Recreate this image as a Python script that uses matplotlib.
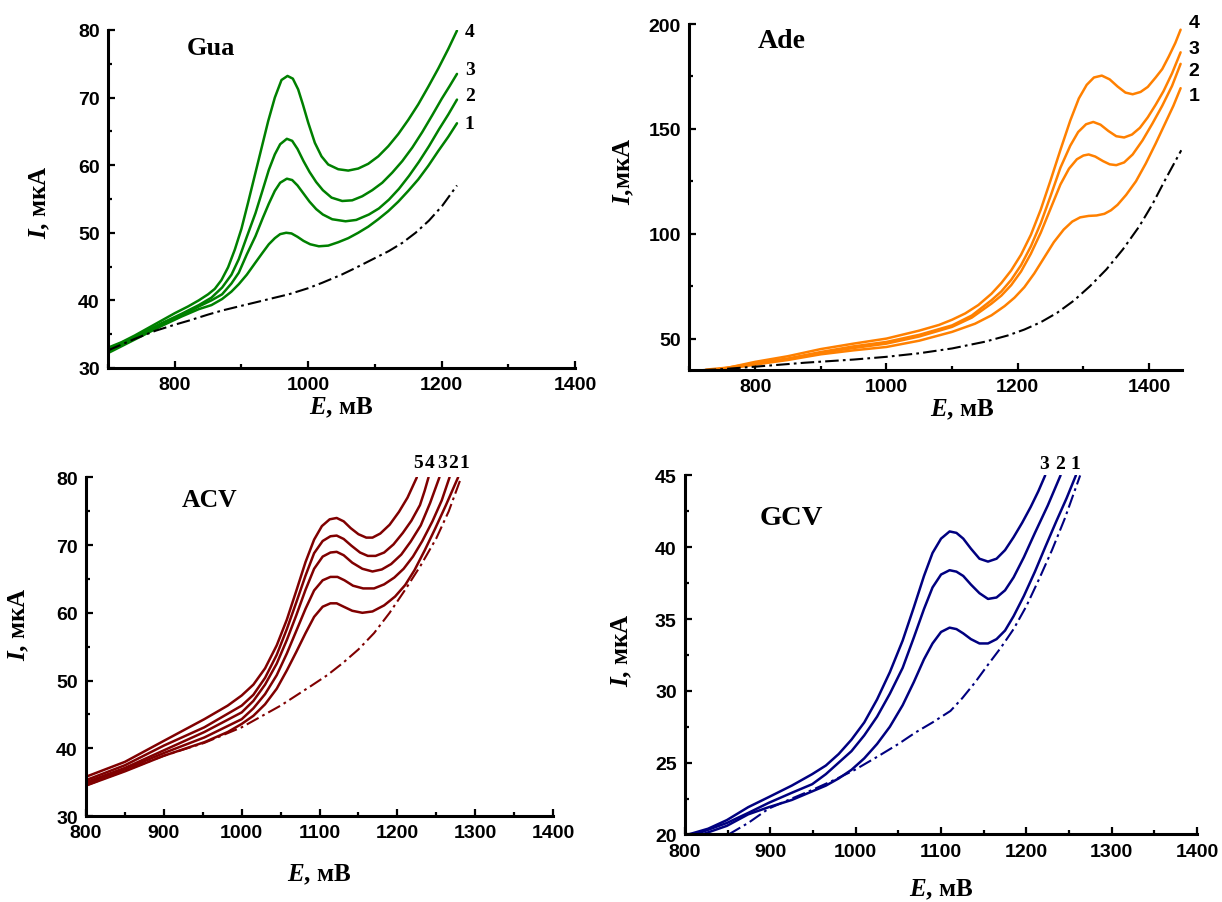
import matplotlib
matplotlib.use("Agg")
import matplotlib.pyplot as plt
from matplotlib.ticker import MultipleLocator

# --- Gua: (E mV, I uA) for curves 1-4 and the background (dash-dot) ---
gua_1 = [(700, 32.2), (740, 34.2), (780, 36.2), (810, 37.6), (836, 38.7), (855, 39.3),
         (871, 40.2), (885, 41.3), (896, 42.4), (908, 43.8), (921, 45.6), (932, 47.1),
         (941, 48.3), (950, 49.2), (958, 49.8), (967, 50.0), (975, 49.9), (984, 49.4),
         (993, 48.8), (1003, 48.3), (1016, 48.0), (1030, 48.1), (1045, 48.6), (1060, 49.2),
         (1075, 50.0), (1090, 50.9), (1105, 52.0), (1120, 53.2), (1135, 54.6), (1150, 56.2),
         (1165, 57.9), (1180, 59.9), (1195, 62.1), (1210, 64.2), (1223, 66.2)]
gua_2 = [(700, 32.5), (740, 34.4), (780, 36.4), (810, 37.8), (836, 39.1), (855, 40.0),
         (871, 40.9), (885, 42.5), (896, 44.1), (908, 46.8), (921, 49.5), (932, 52.2),
         (941, 54.3), (950, 56.2), (958, 57.4), (968, 58.0), (976, 57.8), (984, 57.0),
         (993, 55.8), (1002, 54.6), (1012, 53.5), (1022, 52.7), (1036, 52.0), (1056, 51.7),
         (1072, 51.9), (1091, 52.7), (1106, 53.6), (1121, 54.9), (1136, 56.5), (1151, 58.4),
         (1166, 60.5), (1181, 62.8), (1196, 65.3), (1210, 67.5), (1223, 69.7)]
gua_3 = [(700, 32.8), (740, 34.6), (780, 36.6), (810, 38.0), (836, 39.3), (855, 40.4),
         (871, 41.9), (885, 43.8), (896, 46.1), (908, 49.4), (921, 52.9), (932, 56.4),
         (941, 59.3), (950, 61.6), (958, 63.1), (968, 63.9), (976, 63.6), (984, 62.4),
         (993, 60.6), (1002, 59.0), (1012, 57.5), (1022, 56.3), (1035, 55.2), (1051, 54.7),
         (1066, 54.8), (1081, 55.4), (1096, 56.3), (1111, 57.4), (1126, 58.9), (1141, 60.6),
         (1156, 62.6), (1171, 64.9), (1186, 67.4), (1200, 69.8), (1212, 71.7), (1223, 73.5)]
gua_4 = [(700, 33.0), (720, 33.8), (740, 34.8), (760, 35.9), (780, 37.0), (800, 38.1),
         (820, 39.1), (836, 40.0), (850, 40.9), (860, 41.7), (870, 43.0), (880, 44.9),
         (890, 47.5), (900, 50.6), (910, 54.5), (920, 58.5), (930, 62.5), (940, 66.5),
         (950, 70.0), (960, 72.6), (969, 73.2), (977, 72.8), (985, 71.2), (992, 69.0),
         (1000, 66.3), (1010, 63.3), (1020, 61.3), (1030, 60.1), (1045, 59.4), (1060, 59.2),
         (1075, 59.5), (1090, 60.2), (1105, 61.3), (1120, 62.8), (1135, 64.6), (1150, 66.7),
         (1165, 69.0), (1180, 71.6), (1195, 74.3), (1210, 77.2), (1223, 79.9)]
gua_bg = [(700, 32.6), (740, 34.3), (771, 35.5), (800, 36.4), (821, 37.0), (850, 37.9),
          (871, 38.5), (900, 39.2), (921, 39.7), (950, 40.4), (971, 40.9), (1000, 41.8),
          (1021, 42.6), (1050, 43.8), (1071, 44.8), (1101, 46.3), (1121, 47.3), (1141, 48.5),
          (1161, 50.0), (1181, 51.8), (1201, 54.0), (1223, 57.0)]

# --- Ade ---
ade_1 = [(750, 35.2), (800, 37.6), (850, 39.8), (900, 42.5), (950, 44.4), (1000, 46.0),
         (1050, 49.0), (1100, 53.2), (1135, 57.1), (1160, 61.1), (1180, 65.5), (1195, 69.5),
         (1210, 74.5), (1225, 81.0), (1240, 88.5), (1255, 96.0), (1270, 102.0), (1283, 105.8),
         (1295, 107.8), (1308, 108.5), (1320, 108.7), (1332, 109.5), (1342, 111.2),
         (1352, 113.8), (1365, 118.5), (1380, 125.0), (1395, 133.5), (1410, 143.0),
         (1425, 153.0), (1437, 161.0), (1448, 169.4)]
ade_2 = [(745, 35.2), (800, 38.0), (850, 40.2), (900, 43.2), (950, 45.5), (1000, 47.6),
         (1050, 51.0), (1100, 55.6), (1130, 60.0), (1160, 66.7), (1175, 70.5), (1190, 75.5),
         (1205, 82.0), (1220, 90.5), (1235, 100.5), (1250, 112.0), (1265, 123.5),
         (1278, 131.0), (1290, 135.5), (1300, 137.3), (1308, 137.8), (1318, 136.8),
         (1330, 134.6), (1340, 133.1), (1350, 132.7), (1362, 134.0), (1375, 137.8),
         (1390, 144.5), (1405, 152.5), (1420, 161.0), (1435, 170.5), (1448, 181.0)]
ade_3 = [(740, 35.2), (800, 38.3), (850, 40.5), (900, 43.6), (950, 46.3), (1000, 48.4),
         (1050, 51.8), (1100, 56.3), (1130, 61.0), (1160, 68.3), (1175, 72.5), (1190, 78.0),
         (1205, 85.0), (1220, 94.0), (1235, 105.0), (1250, 118.0), (1265, 131.5),
         (1280, 142.0), (1292, 148.5), (1304, 152.2), (1315, 153.3), (1326, 152.0),
         (1338, 149.0), (1350, 146.5), (1362, 145.9), (1374, 147.3), (1386, 150.5),
         (1398, 155.5), (1410, 161.5), (1422, 168.0), (1435, 176.5), (1448, 186.5)]
ade_4 = [(725, 35.2), (760, 36.2), (800, 38.9), (850, 41.6), (900, 45.0), (950, 47.6),
         (1000, 50.0), (1050, 53.8), (1080, 56.5), (1100, 59.0), (1120, 62.0), (1140, 66.0),
         (1160, 71.4), (1175, 76.5), (1190, 82.5), (1205, 90.0), (1220, 99.5), (1235, 111.5),
         (1250, 125.5), (1265, 140.0), (1280, 154.0), (1293, 164.5), (1305, 171.0),
         (1316, 174.5), (1328, 175.4), (1340, 173.6), (1352, 170.2), (1364, 167.3),
         (1375, 166.5), (1387, 167.6), (1398, 170.0), (1410, 174.5), (1420, 178.5),
         (1430, 184.5), (1440, 191.0), (1448, 197.3)]
ade_bg = [(720, 35.0), (745, 35.3), (800, 36.6), (876, 38.5), (950, 40.0), (1000, 41.3),
          (1050, 43.0), (1100, 45.3), (1150, 48.5), (1185, 51.5), (1210, 54.3), (1235, 57.8),
          (1260, 62.3), (1285, 68.0), (1310, 75.0), (1335, 83.0), (1360, 92.5), (1385, 103.5),
          (1405, 114.0), (1425, 126.0), (1449, 139.8)]

# --- ACV ---
acv_1 = [(800, 34.5), (850, 36.6), (900, 38.9), (952, 40.9), (982, 42.4), (1000, 43.6),
         (1015, 44.8), (1030, 46.5), (1045, 48.8), (1058, 51.5), (1070, 54.2), (1082, 57.0),
         (1093, 59.4), (1104, 60.9), (1114, 61.4), (1122, 61.4), (1131, 60.9), (1142, 60.3),
         (1155, 60.0), (1168, 60.2), (1183, 61.1), (1197, 62.4), (1210, 64.1), (1222, 66.3),
         (1235, 69.2), (1248, 72.3), (1262, 75.8), (1278, 80.0)]
acv_2 = [(800, 34.8), (850, 36.9), (900, 39.3), (952, 41.6), (1000, 44.3), (1015, 45.9),
         (1030, 48.0), (1045, 50.8), (1058, 54.0), (1070, 57.3), (1082, 60.6), (1093, 63.3),
         (1104, 64.8), (1114, 65.3), (1123, 65.3), (1132, 64.8), (1143, 64.0), (1156, 63.6),
         (1170, 63.6), (1183, 64.2), (1196, 65.2), (1208, 66.5), (1220, 68.3), (1232, 70.6),
         (1245, 73.5), (1257, 76.6), (1267, 80.0)]
acv_3 = [(800, 35.0), (850, 37.1), (900, 39.7), (952, 42.4), (1000, 45.3), (1015, 47.0),
         (1030, 49.4), (1045, 52.5), (1058, 56.0), (1070, 59.6), (1082, 63.4), (1093, 66.5),
         (1104, 68.3), (1114, 68.9), (1122, 69.0), (1131, 68.5), (1142, 67.4), (1155, 66.5),
         (1168, 66.1), (1180, 66.4), (1192, 67.2), (1205, 68.6), (1217, 70.5), (1230, 72.9),
         (1242, 76.2), (1254, 80.0)]
acv_4 = [(800, 35.3), (850, 37.5), (900, 40.4), (952, 43.1), (1000, 46.3), (1015, 47.9),
         (1030, 50.4), (1045, 53.8), (1058, 57.6), (1070, 61.5), (1082, 65.5), (1093, 68.8),
         (1104, 70.6), (1114, 71.3), (1122, 71.4), (1131, 70.9), (1141, 69.9), (1152, 68.9),
         (1162, 68.4), (1172, 68.4), (1183, 68.9), (1195, 70.1), (1207, 71.8), (1218, 73.6),
         (1229, 75.9), (1235, 78.0), (1240, 80.0)]
acv_5 = [(800, 35.8), (850, 38.0), (900, 41.1), (952, 44.3), (982, 46.3), (1000, 47.8),
         (1015, 49.4), (1030, 51.8), (1045, 55.2), (1058, 59.0), (1070, 63.2), (1082, 67.5),
         (1093, 70.8), (1103, 72.8), (1113, 73.8), (1122, 74.0), (1131, 73.5), (1140, 72.5),
         (1150, 71.6), (1160, 71.1), (1168, 71.1), (1178, 71.7), (1190, 73.0), (1202, 74.9),
         (1213, 77.0), (1225, 80.0)]
acv_bg = [(800, 34.5), (850, 36.7), (900, 38.9), (952, 40.8), (1000, 43.1), (1050, 46.3),
          (1089, 49.2), (1110, 50.8), (1130, 52.6), (1150, 54.6), (1170, 57.0), (1190, 60.0),
          (1210, 63.4), (1230, 67.0), (1250, 71.0), (1266, 75.0), (1282, 80.0)]

# --- GCV ---
gcv_1 = [(820, 20.0), (849, 20.6), (874, 21.4), (898, 21.9), (925, 22.4), (949, 23.0),
         (965, 23.4), (980, 23.9), (995, 24.5), (1010, 25.3), (1025, 26.3), (1040, 27.5),
         (1055, 29.0), (1068, 30.6), (1080, 32.2), (1090, 33.3), (1100, 34.1), (1110, 34.4),
         (1118, 34.3), (1126, 34.0), (1135, 33.6), (1145, 33.3), (1155, 33.3), (1165, 33.6),
         (1175, 34.2), (1185, 35.2), (1197, 36.6), (1210, 38.3), (1222, 40.0), (1235, 41.8),
         (1247, 43.4), (1258, 45.0)]
gcv_2 = [(812, 20.0), (835, 20.5), (849, 20.8), (874, 21.5), (898, 22.2), (925, 22.9),
         (949, 23.5), (965, 24.2), (980, 25.0), (995, 25.8), (1010, 26.9), (1025, 28.2),
         (1040, 29.8), (1055, 31.6), (1068, 33.7), (1080, 35.7), (1090, 37.2), (1100, 38.1),
         (1110, 38.4), (1118, 38.3), (1126, 38.0), (1135, 37.4), (1145, 36.8), (1155, 36.4),
         (1165, 36.5), (1175, 37.0), (1185, 37.9), (1197, 39.3), (1210, 41.0), (1225, 42.9),
         (1240, 45.0)]
gcv_3 = [(804, 20.0), (827, 20.4), (849, 21.0), (874, 21.9), (898, 22.6), (925, 23.4),
         (949, 24.2), (965, 24.8), (980, 25.6), (995, 26.6), (1010, 27.8), (1025, 29.4),
         (1040, 31.3), (1055, 33.5), (1068, 35.8), (1080, 38.0), (1090, 39.6), (1100, 40.6),
         (1110, 41.1), (1118, 41.0), (1126, 40.6), (1135, 39.9), (1145, 39.2), (1155, 39.0),
         (1165, 39.2), (1175, 39.8), (1185, 40.7), (1195, 41.7), (1205, 42.8), (1214, 43.9),
         (1222, 45.0)]
gcv_bg = [(851, 20.0), (874, 20.8), (898, 21.8), (925, 22.5), (949, 23.1), (975, 23.8),
          (999, 24.5), (1025, 25.4), (1050, 26.3), (1070, 27.1), (1090, 27.8), (1111, 28.6),
          (1125, 29.5), (1140, 30.6), (1156, 31.9), (1170, 33.0), (1185, 34.3), (1200, 35.9),
          (1215, 37.8), (1230, 39.8), (1245, 42.0), (1263, 45.0)]

curve_names = ["1", "2", "3", "4", "5"]

SERIF = ["Liberation Serif", "DejaVu Serif"]
SANS = ["Liberation Sans", "DejaVu Sans"]

plt.rcParams["font.family"] = SANS
plt.rcParams["font.weight"] = "bold"
plt.rcParams["mathtext.fontset"] = "custom"
plt.rcParams["mathtext.it"] = "Liberation Serif:italic:bold"
plt.rcParams["mathtext.rm"] = "Liberation Serif:bold"

GREEN = "#008000"
ORANGE = "#ff8000"
MAROON = "#800000"
NAVY = "#000080"
DASHDOT = (0, (6.5, 2.0, 1.3, 2.0))


def setup_axes(ax, xlim, ylim, xmaj, xmin, ymaj, ymin):
    ax.set_xlim(*xlim)
    ax.set_ylim(*ylim)
    ax.spines["top"].set_visible(False)
    ax.spines["right"].set_visible(False)
    for s in ("left", "bottom"):
        ax.spines[s].set_linewidth(2.2)
    ax.xaxis.set_major_locator(MultipleLocator(xmaj))
    ax.xaxis.set_minor_locator(MultipleLocator(xmin))
    ax.yaxis.set_major_locator(MultipleLocator(ymaj))
    ax.yaxis.set_minor_locator(MultipleLocator(ymin))
    ax.tick_params(which="both", direction="in", width=1.6, labelsize=14, pad=6)
    ax.tick_params(which="major", length=5)
    ax.tick_params(which="minor", length=3)


def draw(ax, pts, color, ls="-", lw=1.8):
    e, i = zip(*pts)
    ax.plot(e, i, color=color, lw=lw, ls=ls, solid_joinstyle="round",
            solid_capstyle="round")


def labels(ax, xlabel, ylabel, xpos, ypos):
    ax.set_xlabel(xlabel, fontfamily=SERIF, fontsize=18, fontweight="bold")
    ax.set_ylabel(ylabel, fontfamily=SERIF, fontsize=18, fontweight="bold")
    ax.xaxis.set_label_coords(*xpos)
    ax.yaxis.set_label_coords(*ypos)


def title(ax, txt, x, y, size):
    ax.text(x, y, txt, transform=ax.transAxes, fontfamily=SERIF, fontsize=size,
            fontweight="bold", ha="left", va="baseline")


def mark(ax, txt, e, i, family):
    ax.text(e, i, txt, fontfamily=family, fontsize=14, fontweight="bold",
            ha="center", va="center", clip_on=False)


fig = plt.figure(figsize=(12.22, 9.03), dpi=100)

# Gua
ax1 = fig.add_axes([0.0884, 0.5914, 0.3822, 0.3743])
setup_axes(ax1, (700, 1400), (30, 80), 200, 100, 10, 5)
for c in (gua_1, gua_2, gua_3, gua_4):
    draw(ax1, c, GREEN)
draw(ax1, gua_bg, "black", ls=DASHDOT, lw=1.5)
title(ax1, "Gua", 0.169, 0.929, 19)
labels(ax1, r"$E$, мВ", r"$I$, мкА", (0.5, -0.08), (-0.12, 0.493))
for name, y in zip(curve_names[:4], (66.2, 70.3, 74.2, 79.8)):
    mark(ax1, name, 1242, y, SERIF)

# Ade
ax2 = fig.add_axes([0.5642, 0.5891, 0.4030, 0.3832])
setup_axes(ax2, (700, 1450), (35, 200), 200, 100, 50, 25)
for c in (ade_1, ade_2, ade_3, ade_4):
    draw(ax2, c, ORANGE)
draw(ax2, ade_bg, "black", ls=DASHDOT, lw=1.5)
title(ax2, "Ade", 0.138, 0.934, 20)
labels(ax2, r"$E$, мВ", r"$I$,мкА", (0.553, -0.078), (-0.108, 0.578))
for name, y in zip(curve_names[:4], (165.9, 177.8, 188.4, 200.8)):
    mark(ax2, name, 1468, y, SANS)

# ACV
ax3 = fig.add_axes([0.0704, 0.0952, 0.3822, 0.3751])
setup_axes(ax3, (800, 1400), (30, 80), 100, 50, 10, 5)
for c in (acv_1, acv_2, acv_3, acv_4, acv_5):
    draw(ax3, c, MAROON)
draw(ax3, acv_bg, MAROON, ls=DASHDOT, lw=1.5)
title(ax3, "ACV", 0.206, 0.915, 18.5)
labels(ax3, r"$E$, мВ", r"$I$, мкА", (0.5, -0.135), (-0.118, 0.571))
for name, e in zip(curve_names, (1286, 1272, 1257, 1242, 1227)):
    mark(ax3, name, e, 82.2, SERIF)

# GCV
ax4 = fig.add_axes([0.5606, 0.0748, 0.4190, 0.3976])
setup_axes(ax4, (800, 1400), (20, 45), 100, 50, 5, 2.5)
for c in (gcv_1, gcv_2, gcv_3):
    draw(ax4, c, NAVY)
draw(ax4, gcv_bg, NAVY, ls=DASHDOT, lw=1.5)
title(ax4, "GCV", 0.146, 0.865, 20.5)
labels(ax4, r"$E$, мВ", r"$I$, мкА", (0.5, -0.118), (-0.10, 0.517))
for name, e in zip(curve_names[:3], (1257, 1239, 1221)):
    mark(ax4, name, e, 45.8, SERIF)

fig.savefig("out.png", dpi=100)
